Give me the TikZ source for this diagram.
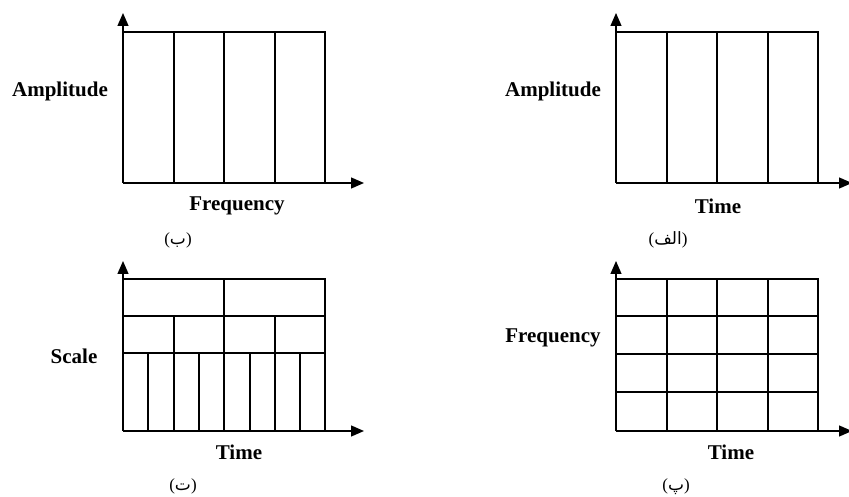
\documentclass[tikz,border=0pt]{standalone}
\usepackage{fontspec}
\setmainfont{Liberation Serif}
\newfontfamily\arabicfont[Script=Arabic]{DejaVu Sans}
\TeXXeTstate=1
\usetikzlibrary{arrows.meta}
\tikzset{
  grid line/.style={line width=1.3pt, black},
  axis line/.style={line width=1.3pt, black, -{Triangle[length=13pt,width=11pt]}},
  axis label/.style={font=\fontsize{21}{24}\selectfont\bfseries, inner sep=0pt},
  caption/.style={font=\fontsize{17}{20}\selectfont, inner sep=0pt}
}
\newcommand{\arabictext}[1]{{\arabicfont\beginR #1\endR}}
\begin{document}
\begin{tikzpicture}[x=1pt,y=-1pt]
\useasboundingbox (0,0) rectangle (849,497);
\clip (0,0) rectangle (849,497);

% ---- panel (b): amplitude vs frequency ----
\coordinate (bO) at (123,183);
\coordinate (bY) at (123,13);
\coordinate (bX) at (364,183);
\draw[grid line] (123,32) -- (325,32) -- (325,183);
\foreach \x in {174,224,275} \draw[grid line] (\x,32) -- (\x,183);
\draw[axis line] (bO) -- (bY);
\draw[axis line] (bO) -- (bX);
\node[axis label] (bylab) at (60,91) {Amplitude};
\node[axis label] (bxlab) at (237,206) {Frequency};
\node[caption] (bcap) at (178,240) {(\arabictext{ب})};

% ---- panel (alef): amplitude vs time ----
\coordinate (aO) at (616,183);
\coordinate (aY) at (616,13);
\coordinate (aX) at (852,183);
\draw[grid line] (616,32) -- (818,32) -- (818,183);
\foreach \x in {667,717,768} \draw[grid line] (\x,32) -- (\x,183);
\draw[axis line] (aO) -- (aY);
\draw[axis line] (aO) -- (aX);
\node[axis label] (aylab) at (553,91) {Amplitude};
\node[axis label] (axlab) at (718,206) {Time};
\node[caption] (acap) at (668,240) {(\arabictext{الف})};

% ---- panel (te): scale vs time ----
\coordinate (tO) at (123,431);
\coordinate (tY) at (123,261);
\coordinate (tX) at (364,431);
\draw[grid line] (123,279) -- (325,279) -- (325,431);
\draw[grid line] (123,316) -- (325,316);
\draw[grid line] (123,353) -- (325,353);
\draw[grid line] (224,279) -- (224,431);
\foreach \x in {174,275} \draw[grid line] (\x,316) -- (\x,431);
\foreach \x in {148,199,250,300} \draw[grid line] (\x,353) -- (\x,431);
\draw[axis line] (tO) -- (tY);
\draw[axis line] (tO) -- (tX);
\node[axis label] (tylab) at (74,356) {Scale};
\node[axis label] (txlab) at (239,452) {Time};
\node[caption] (tcap) at (183,486) {(\arabictext{ت})};

% ---- panel (pe): frequency vs time ----
\coordinate (pO) at (616,431);
\coordinate (pY) at (616,261);
\coordinate (pX) at (852,431);
\draw[grid line] (616,279) -- (818,279) -- (818,431);
\foreach \y in {316,354,392} \draw[grid line] (616,\y) -- (818,\y);
\foreach \x in {667,717,768} \draw[grid line] (\x,279) -- (\x,431);
\draw[axis line] (pO) -- (pY);
\draw[axis line] (pO) -- (pX);
\node[axis label] (pylab) at (553,338) {Frequency};
\node[axis label] (pxlab) at (731,452) {Time};
\node[caption] (pcap) at (676,487) {(\arabictext{پ})};
\end{tikzpicture}
\end{document}
